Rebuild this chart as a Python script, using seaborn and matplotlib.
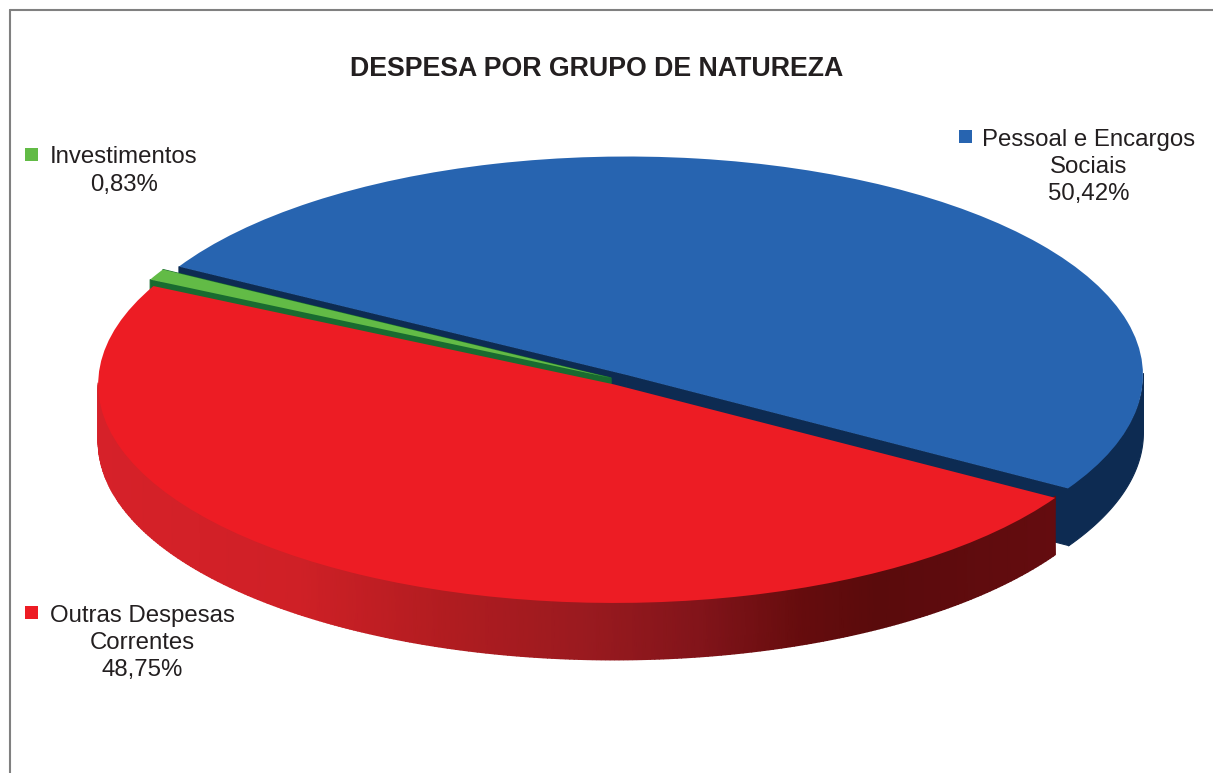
import numpy as np
import matplotlib
matplotlib.use("Agg")
import matplotlib.pyplot as plt
from matplotlib.colors import LinearSegmentedColormap
from matplotlib.lines import Line2D
from matplotlib.patches import Rectangle
import seaborn as sns

# ==========================
# Data
# ==========================
grupos = ['Pessoal e Encargos\nSociais', 'Outras Despesas\nCorrentes', 'Investimentos']
valores = [50.42, 48.75, 0.83]
titulo = 'DESPESA POR GRUPO DE NATUREZA'

cores_topo = ['#2764b0', '#ed1c24', '#62bb46']
cores_lado = ['#0d2b52', '#5f0b0d', '#196b30']

# ==========================
# Layout (pixels of the picture)
# ==========================
W, H = 1213, 773
cx, cy = 620, 380
rx, ry = 516, 218.5
prof = 57 / ry

sns.set_theme(style='white')
plt.rcParams['font.family'] = ['Liberation Sans', 'DejaVu Sans']

fig = plt.figure(figsize=(W / 100, H / 100), dpi=100)
ax = fig.add_axes([0, 0, 1, 1])


def fx(x):
    return x / W


def fy(y):
    return 1 - y / H


# ==========================
# Top of the pie
# ==========================
wedges, _ = ax.pie(
    valores,
    colors=cores_topo,
    explode=[0.0265, 0.0233, 0.02],
    startangle=150.25,
    counterclock=False,
    wedgeprops={'linewidth': 0},
)
ax.set_aspect('auto')
ax.set_xlim(-cx / rx, (W - cx) / rx)
ax.set_ylim((cy - H) / ry, cy / ry)
ax.axis('off')

for w, z in zip(wedges, [2, 6, 4]):
    w.set_zorder(z)

gradiente = LinearSegmentedColormap.from_list('lado_vermelho', [
    (0.00, '#d62129'),
    (0.21, '#cf2026'),
    (0.37, '#b01c20'),
    (0.51, '#9a1a1f'),
    (0.63, '#82141a'),
    (0.74, '#650c0d'),
    (0.815, '#5a0b0c'),
    (1.00, '#640c0f'),
])


def parede_externa(w, z, cor=None):
    # outer rim, only the part that faces the viewer
    a1, a2 = w.theta1 % 360, w.theta2 % 360
    if a2 <= a1:
        a2 += 360
    ang = np.radians(np.linspace(max(a1, 180), min(a2, 360), 300))
    if len(ang) == 0 or ang[0] >= ang[-1]:
        return
    x = w.center[0] + w.r * np.cos(ang)
    y = w.center[1] + w.r * np.sin(ang)
    # start a bit above the rim so no white seam shows under the top
    if cor is not None:
        ax.fill_between(x, y - prof, y + 0.008, color=cor, lw=0.8, zorder=z)
    else:
        X = np.vstack([x, x])
        Y = np.vstack([y + 0.008, y - prof])
        ax.pcolormesh(X, Y, X, cmap=gradiente, shading='gouraud', zorder=z,
                      vmin=x.min(), vmax=x.max())


def parede_corte(w, ang, z, cor):
    # straight wall under a cut edge of the slice
    a = np.radians(ang)
    x0, y0 = w.center
    x1, y1 = x0 + w.r * np.cos(a), y0 + w.r * np.sin(a)
    ax.fill([x0, x1, x1, x0], [y0, y1, y1 - prof, y0 - prof],
            color=cor, lw=0.8, zorder=z)


azul, vermelho, verde = wedges

parede_externa(azul, 1, cores_lado[0])
parede_corte(azul, azul.theta1, 1, cores_lado[0])
parede_corte(azul, azul.theta2, 1, cores_lado[0])
parede_corte(verde, verde.theta2, 3, cores_lado[2])
parede_corte(verde, verde.theta1, 3, cores_lado[2])
parede_externa(vermelho, 5)

# ==========================
# Frame, title and labels
# ==========================
fig.add_artist(Line2D([fx(9.5), fx(9.5)], [fy(9.5), fy(H)], color='#808080', lw=1.5))
fig.add_artist(Line2D([fx(9.5), fx(W)], [fy(9.5), fy(9.5)], color='#808080', lw=1.5))

fig.text(fx(597), fy(69), titulo, ha='center', va='center', fontsize=19.25,
         fontweight='bold', color='#231f20')


def rotulo(i, x, y, qx, qy):
    pct = f'{valores[i]:.2f}'.replace('.', ',') + '%'
    fig.text(fx(x), fy(y), grupos[i] + '\n' + pct, ha='center', va='center',
             multialignment='center', fontsize=17.3, color='#231f20', linespacing=1.32)
    fig.add_artist(Rectangle((fx(qx), fy(qy + 13)), 13 / W, 13 / H,
                             transform=fig.transFigure, color=cores_topo[i], lw=0))


rotulo(0, 1089, 167, 959, 130)
rotulo(1, 142, 643, 25, 606)
rotulo(2, 124, 171, 25, 148)

fig.savefig('out.png', dpi=100)
